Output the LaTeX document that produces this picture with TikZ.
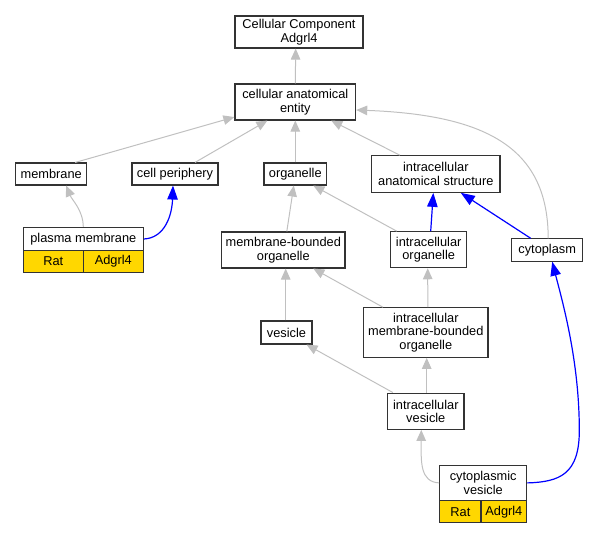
\documentclass[tikz,border=0pt]{standalone}
\usepackage{fontspec}
\setmainfont{Liberation Sans}
\usetikzlibrary{arrows.meta}
\definecolor{edgegray}{HTML}{C0C0C0}
\definecolor{edgeblue}{HTML}{0000FF}
\definecolor{cellgold}{HTML}{FFD700}
\begin{document}
\begin{tikzpicture}[x=1pt,y=-1pt,
  box/.style={draw=black!80, line width=1.1pt, fill=white, inner sep=0pt, align=center,
    font=\fontsize{12.8}{13.4}\selectfont},
  cell/.style={box, fill=cellgold},
  isa/.style={draw=edgegray, line width=1pt, -{Triangle[length=11pt,width=9.5pt]}},
  partof/.style={draw=edgeblue, line width=1.2pt, -{Triangle[length=14pt,width=10.5pt]}}]
\useasboundingbox (0,0) rectangle (599,533);
% nodes
\node[box, minimum width=128pt, minimum height=32pt] (cc) at (299,32) {Cellular Component\\Adgrl4};
\node[box, minimum width=120.7pt, minimum height=36pt] (cae) at (295.3,102) {cellular anatomical\\entity};
\node[box, minimum width=71pt, minimum height=22pt] (mem) at (51.2,174) {membrane};
\node[box, minimum width=86pt, minimum height=22pt] (cp) at (175,174) {cell periphery};
\node[box, minimum width=62.7pt, minimum height=22pt] (org) at (295.3,174) {organelle};
\node[box, minimum width=128.3pt, minimum height=36.6pt] (ias) at (435.8,174) {intracellular\\anatomical structure};
\node[box, minimum width=120pt, minimum height=23.4pt] (pm) at (83.3,239) {plasma membrane};
\node[cell, minimum width=60pt, minimum height=21.6pt] (pmrat) at (53.3,261.5) {Rat};
\node[cell, minimum width=60pt, minimum height=21.6pt] (pmgene) at (113.3,261.5) {Adgrl4};
\node[box, minimum width=123.3pt, minimum height=36pt] (mbo) at (283.3,250) {membrane-bounded\\organelle};
\node[box, minimum width=76pt, minimum height=36pt] (io) at (428.7,249.7) {intracellular\\organelle};
\node[box, minimum width=71pt, minimum height=22.3pt] (cyto) at (547.2,250) {cytoplasm};
\node[box, minimum width=51pt, minimum height=23pt] (ves) at (286.5,332.5) {vesicle};
\node[box, minimum width=124.3pt, minimum height=49.6pt] (imbo) at (425.8,332.5) {intracellular\\membrane-bounded\\organelle};
\node[box, minimum width=76.3pt, minimum height=36.3pt] (iv) at (425.8,411.2) {intracellular\\vesicle};
\node[box, minimum width=87pt, minimum height=35.7pt] (cv) at (483.2,482.9) {cytoplasmic\\vesicle};
\node[cell, minimum width=41.3pt, minimum height=22pt] (cvrat) at (460.35,511.7) {Rat};
\node[cell, minimum width=45.7pt, minimum height=22pt] (cvgene) at (503.85,511.7) {Adgrl4};
% edges
\draw[isa] (cae.north) -- ([xshift=-3.3pt]cc.south);
\draw[isa] ([xshift=24pt]mem.north) -- ([yshift=3.5pt]cae.south west);
\draw[isa] ([xshift=20pt]cp.north) -- ([xshift=33pt]cae.south west);
\draw[isa] (org.north) -- (cae.south);
\draw[isa] ([xshift=-36pt]ias.north) -- ([xshift=-25pt]cae.south east);
\draw[isa] ([xshift=1pt]cyto.north) .. controls (548,150) and (490,115) .. ([yshift=-8pt]cae.east);
\draw[isa] (pm.north) .. controls (83,210) and (72,200) .. ([xshift=15pt]mem.south);
\draw[partof] (pm.east) .. controls (165,238) and (172,215) .. ([xshift=-2pt]cp.south);
\draw[isa] ([xshift=3.5pt]mbo.north) -- ([xshift=-1.5pt]org.south);
\draw[isa] ([xshift=-32pt]io.north) -- ([xshift=18pt]org.south);
\draw[partof] ([xshift=2pt]io.north) -- ([xshift=-2.5pt]ias.south);
\draw[partof] ([xshift=-16.5pt]cyto.north) -- ([xshift=25pt]ias.south);
\draw[isa] ([xshift=-0.8pt]ves.north) -- ([xshift=2.4pt]mbo.south);
\draw[isa] ([xshift=-43pt]imbo.north) -- ([xshift=30pt]mbo.south);
\draw[isa] ([xshift=2pt]imbo.north) -- ([xshift=-1pt]io.south);
\draw[isa] ([xshift=-33pt]iv.north) -- ([xshift=20pt]ves.south);
\draw[isa] ([xshift=0.9pt]iv.north) -- ([xshift=0.9pt]imbo.south);
\draw[isa] (cv.west) .. controls (420,482) and (421,462) .. ([xshift=-4.5pt]iv.south);
\draw[partof] (cv.east) .. controls (560,482) and (579.5,474) .. (579.3,430)
   .. controls (579.3,360) and (562,300) .. ([xshift=5pt]cyto.south);
\end{tikzpicture}
\end{document}
